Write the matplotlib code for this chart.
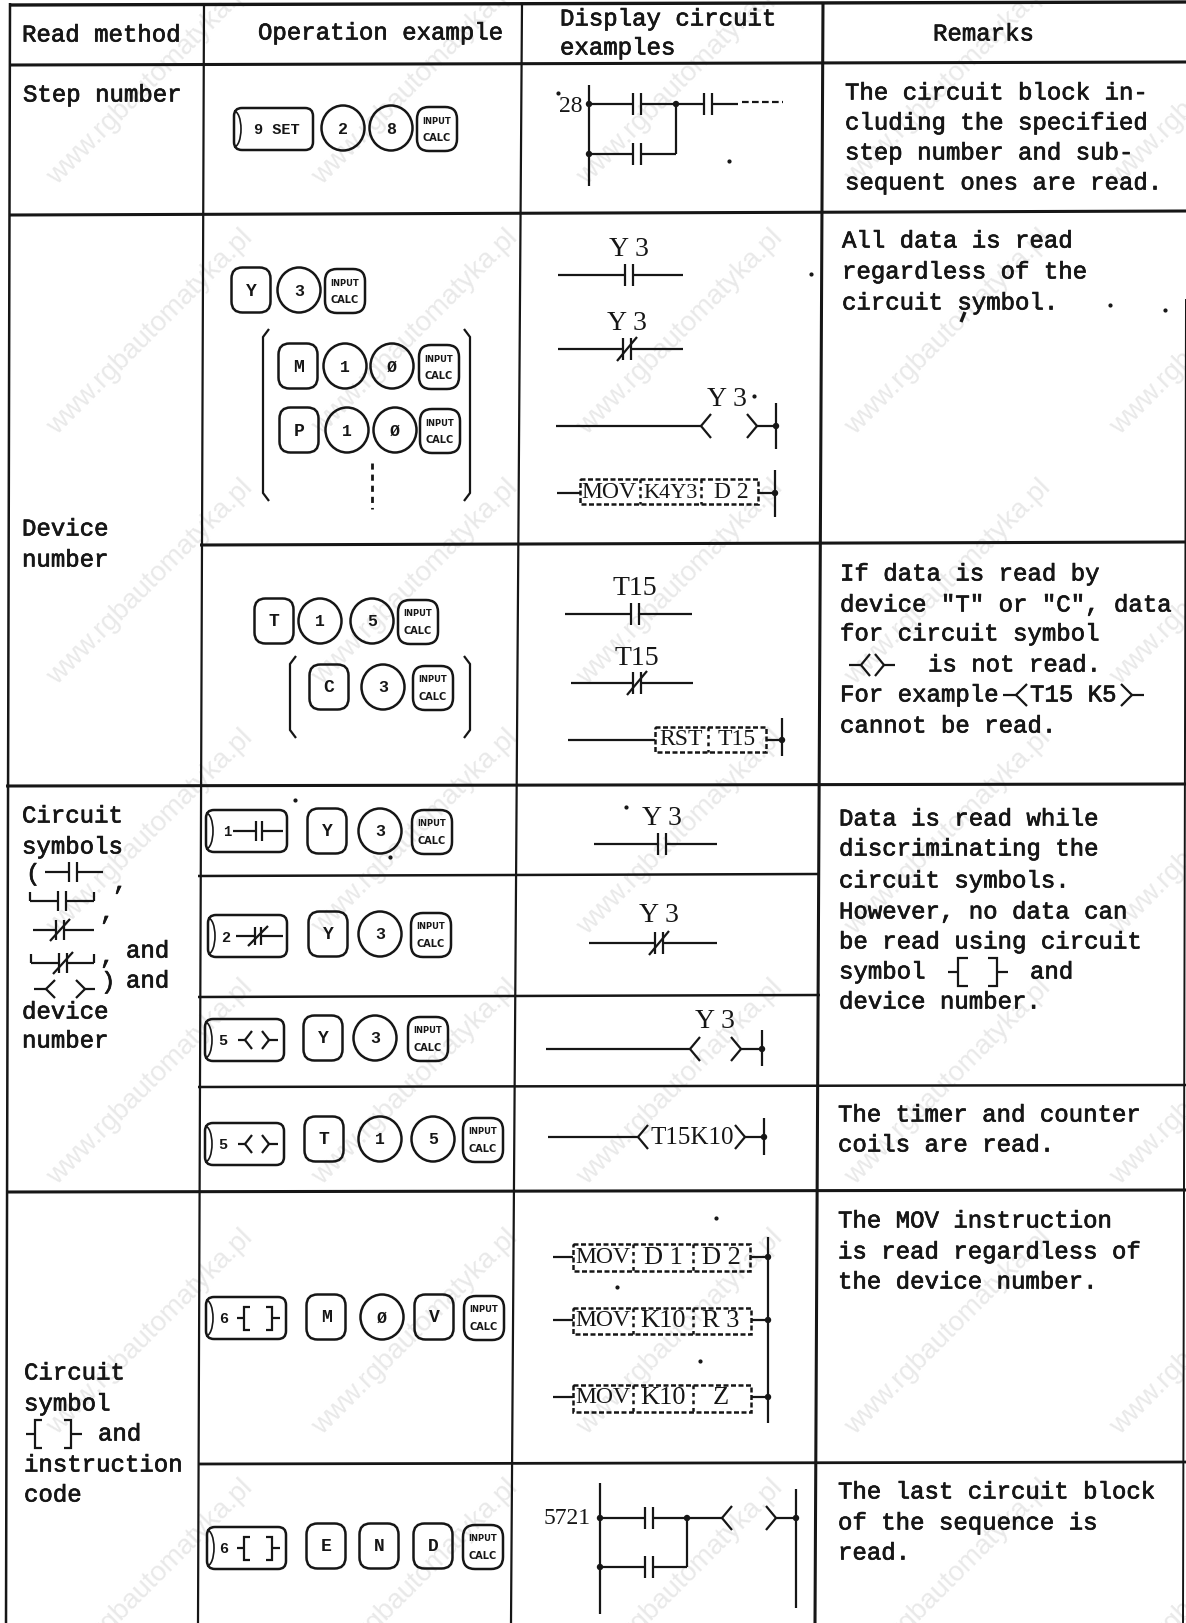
import matplotlib
matplotlib.use("Agg")
import matplotlib.patheffects as pe
import matplotlib.pyplot as plt
from matplotlib.patches import Arc, Circle, Ellipse, FancyBboxPatch, Rectangle

INK = "#161616"
MONO = "Liberation Mono"
SERIF = "Liberation Serif"

# Table text
headers = ["Read method", "Operation example", "Display circuit", "examples", "Remarks"]
method_step = ["Step number"]
method_device = ["Device", "number"]
method_symbols = ["Circuit", "symbols", "device", "number"]
method_code = ["Circuit", "symbol", "instruction", "code"]
remark_step = ["The circuit block in-", "cluding the specified", "step number and sub-", "sequent ones are read."]
remark_all = ["All data is read", "regardless of the", "circuit symbol."]
remark_tc = ['If data is read by', 'device "T" or "C", data', 'for circuit symbol', 'cannot be read.']
remark_disc = ["Data is read while", "discriminating the", "circuit symbols.", "However, no data can", "be read using circuit", "device number."]
remark_timer = ["The timer and counter", "coils are read."]
remark_mov = ["The MOV instruction", "is read regardless of", "the device number."]
remark_end = ["The last circuit block", "of the sequence is", "read."]

fig = plt.figure(figsize=(11.86, 16.24), dpi=100, facecolor="white")
ax = fig.add_axes([0, 0, 1, 1])
ax.set_xlim(0, 1186)
ax.set_ylim(1624, 0)
ax.axis("off")

# Watermark
for wy in [82, 332, 582, 832, 1082, 1332, 1582]:
    for wx in [150, 415, 680, 948, 1213]:
        ax.text(wx, wy, "www.rgbautomatyka.pl", rotation=45, fontsize=20, family="Liberation Sans",
                color="#e9e9e9", ha="center", va="center", rotation_mode="anchor", zorder=0)


def ln(xs, ys, lw=1.6, **kw):
    ax.plot(xs, ys, color=INK, lw=lw, solid_capstyle="butt", solid_joinstyle="miter", **kw)


def txt(x, y, s, size=17.3, family=MONO, ha="left", heavy=True, **kw):
    t = ax.text(x, y, s, fontsize=size, family=family, ha=ha, va="center", color=INK, **kw)
    if heavy:
        t.set_path_effects([pe.withStroke(linewidth=0.5, foreground=INK)])


def block(x, ys, lines):
    for y, s in zip(ys, lines):
        txt(x, y, s)


def dot(x, y, r=3.2):
    ax.add_patch(Circle((x, y), r, color=INK, lw=0, zorder=3))


def contact(x0, x1, xc, y, nc=False, h=11, gap=4, lw=1.6):
    ln([x0, xc - gap], [y, y], lw)
    ln([xc + gap, x1], [y, y], lw)
    ln([xc - gap, xc - gap], [y - h, y + h], lw)
    ln([xc + gap, xc + gap], [y - h, y + h], lw)
    if nc:
        ln([xc - 10, xc + 10], [y + h + 1, y - h - 1], lw)


def coil_ends(xl, xr, y, h=12, w=10, lw=1.6):
    ln([xl + w, xl, xl + w], [y - h, y, y + h], lw)
    ln([xr - w, xr, xr - w], [y - h, y, y + h], lw)


def dash_box(x0, x1, y0, y1, divs=()):
    ax.add_patch(Rectangle((x0, y0), x1 - x0, y1 - y0, fill=False, ec=INK, lw=1.8, ls=(0, (2, 1))))
    for d in divs:
        ax.plot([d, d], [y0, y1], color=INK, lw=1.8, ls=(0, (1.5, 1.5)))


def serif(x, y, s, size=20, **kw):
    txt(x, y, s, size=size, family=SERIF, ha="center", heavy=False, **kw)


def key_text(x, y, s, size=12):
    txt(x, y, s, size=size, ha="center", fontweight="bold", heavy=False)


def round_key(xc, yc, s, w=39, h=45):
    ax.add_patch(FancyBboxPatch((xc - w / 2, yc - h / 2), w, h, boxstyle="round,pad=0,rounding_size=11",
                                fill=False, ec=INK, lw=1.8))
    key_text(xc, yc, s, 13)


def circle_key(xc, yc, s, w=43, h=45):
    ax.add_patch(Ellipse((xc, yc), w, h, fill=False, ec=INK, lw=1.8))
    key_text(xc, yc, s, 12)


def calc_key(xc, yc, w=40, h=44):
    ax.add_patch(FancyBboxPatch((xc - w / 2, yc - h / 2), w, h, boxstyle="round,pad=0,rounding_size=12",
                                fill=False, ec=INK, lw=1.8))
    txt(xc, yc - 9, "INPUT", size=6, family="DejaVu Sans", ha="center", fontweight="bold", heavy=False)
    txt(xc, yc + 8, "CALC", size=7, family="DejaVu Sans", ha="center", fontweight="bold", heavy=False)


def wide_key(x0, x1, yc, h=42):
    ax.add_patch(FancyBboxPatch((x0, yc - h / 2), x1 - x0, h, boxstyle="round,pad=0,rounding_size=8",
                                fill=False, ec=INK, lw=1.8))
    ax.add_patch(Arc((x0, yc), 14, h - 6, theta1=-90, theta2=90, ec=INK, lw=1.2))


def key_row(xs, yc, labels):
    for x, s in zip(xs, labels):
        if s == "CALC":
            calc_key(x, yc + 1)
        elif s in "0123456789Ø":
            circle_key(x, yc, s)
        else:
            round_key(x, yc, s)


def parens(xl, xr, y0, y1):
    ln([xl + 6, xl, xl, xl + 6], [y0, y0 + 8, y1 - 8, y1], 1.6)
    ln([xr - 6, xr, xr, xr - 6], [y0, y0 + 8, y1 - 8, y1], 1.6)


# Table grid
for xs, ys, lw in [
    ([10, 1186], [6, 3], 2.4),
    ([10, 1186], [66, 63], 2.2),
    ([10, 1186], [216, 212], 2.2),
    ([200, 1186], [546, 543], 2.2),
    ([6, 1186], [787, 785], 2.2),
    ([198, 820], [877, 875], 1.8),
    ([198, 820], [998, 996], 1.8),
    ([198, 1186], [1088, 1086], 1.8),
    ([6, 1186], [1193, 1191], 2.2),
    ([198, 1186], [1465, 1463], 2.0),
    ([10, 6], [4, 1624], 1.8),
    ([204, 198], [4, 1624], 1.6),
    ([522, 511], [4, 1624], 1.6),
    ([823, 815], [3, 1624], 2.2),
    ([1186, 1183], [300, 1624], 1.4),
]:
    ln(xs, ys, lw)

# Headers and left column
txt(22, 36, headers[0])
txt(258, 34, headers[1])
block(560, [20, 49], headers[2:4])
txt(933, 35, headers[4])
block(23, [96], method_step)
block(22, [530, 561], method_device)
block(22, [817, 848, 1013, 1042], method_symbols)
block(24, [1374, 1405, 1466, 1496], method_code)
txt(126, 952, "and")
txt(126, 982, "and")
txt(98, 1435, "and")

# Circuit symbols named in the left column
txt(26, 875, "(")
contact(45, 103, 73, 873, h=10)
txt(113, 884, ",")
contact(30, 94, 62, 902, h=10)
ln([30, 30], [893, 902])
ln([94, 94], [893, 902])
txt(100, 914, ",")
contact(33, 94, 60, 931, nc=True, h=10)
contact(31, 94, 63, 964, nc=True, h=10)
ln([31, 31], [955, 964])
ln([94, 94], [955, 964])
txt(100, 958, ",")
ln([34, 46], [990, 990])
ln([85, 95], [990, 990])
coil_ends(46, 85, 990, h=9, w=9)
txt(101, 983, ")")
ln([26, 35], [1435, 1435])
ln([42, 35, 35, 42], [1421, 1421, 1449, 1449])
ln([64, 71, 71, 64], [1421, 1421, 1449, 1449])
ln([71, 82], [1435, 1435])

# Remarks
block(845, [94, 124, 154, 184], remark_step)
block(842, [242, 273, 304], remark_all)
block(840, [575, 606, 635, 727], remark_tc)
txt(928, 666, "is not read.")
ln([849, 861], [666, 666])
ln([884, 895], [666, 666])
coil_ends(861, 884, 666, h=11, w=9)
txt(840, 696, "For example")
ln([1003, 1016], [696, 696])
ln([1027, 1016, 1027], [685, 696, 707])
txt(1030, 696, "T15 K5")
ln([1121, 1132, 1121], [685, 696, 707])
ln([1132, 1144], [696, 696])
block(839, [820, 850, 882, 913, 943, 1003], remark_disc)
txt(839, 973, "symbol")
ln([948, 958], [973, 973])
ln([968, 958, 958, 968], [959, 959, 987, 987])
ln([988, 997, 997, 988], [959, 959, 987, 987])
ln([997, 1008], [973, 973])
txt(1030, 973, "and")
block(838, [1116, 1146], remark_timer)
block(838, [1222, 1253, 1283], remark_mov)
block(838, [1493, 1524, 1554], remark_end)

# Operation example keys
wide_key(234, 313, 130)
key_text(277, 130, "9 SET", 11)
key_row([343, 391, 437], 129, ["2", "8", "CALC"])
key_row([251, 299, 345], 291, ["Y", "3", "CALC"])
key_row([298, 345, 392, 439], 367, ["M", "1", "Ø", "CALC"])
key_row([299, 347, 395, 440], 431, ["P", "1", "Ø", "CALC"])
ax.plot([372, 372], [464, 510], color=INK, lw=2, ls=(0, (2.2, 1.8)))
parens(263, 470, 330, 502)
key_row([274, 320, 372, 418], 622, ["T", "1", "5", "CALC"])
key_row([329, 383, 433], 688, ["C", "3", "CALC"])
parens(290, 470, 657, 739)
wide_key(206, 287, 832)
key_text(227, 832, "1", 10)
contact(233, 283, 259, 832, h=10, gap=3)
key_row([327, 380, 432], 832, ["Y", "3", "CALC"])
wide_key(208, 287, 937)
key_text(226, 938, "2", 11)
contact(236, 283, 258, 937, nc=True, h=9, gap=3)
key_row([328, 380, 431], 935, ["Y", "3", "CALC"])
for wy, digit in [(1041, "5"), (1145, "5")]:
    wide_key(205, 284, wy)
    key_text(223, wy, digit, 11)
    ln([238, 245], [wy, wy])
    ln([269, 278], [wy, wy])
    coil_ends(245, 269, wy, h=9, w=7)
key_row([323, 375, 428], 1039, ["Y", "3", "CALC"])
key_row([324, 380, 433, 483], 1140, ["T", "1", "5", "CALC"])
for wy, x0 in [(1319, 206), (1549, 207)]:
    wide_key(x0, 286, wy)
    key_text(224, wy, "6", 11)
    ln([237, 244], [wy, wy])
    ln([250, 244, 244, 250], [wy - 11, wy - 11, wy + 12, wy + 12])
    ln([266, 272, 272, 266], [wy - 11, wy - 11, wy + 12, wy + 12])
    ln([272, 280], [wy, wy])
key_row([326, 382, 434, 484], 1318, ["M", "Ø", "V", "CALC"])
key_row([326, 379, 433, 483], 1547, ["E", "N", "D", "CALC"])

# Display circuits: step number
serif(571, 106, "28", size=17)
ln([589, 589], [86, 187])
contact(589, 676, 637, 105)
contact(676, 738, 708, 105)
ax.plot([742, 783], [103, 103], color=INK, lw=1.6, ls=(0, (3, 1.5)))
contact(589, 676, 637, 155)
ln([676, 676], [105, 155])
dot(589, 105)
dot(676, 105)
dot(589, 155)

# Device number
serif(629, 249, "Y 3")
contact(558, 683, 629, 276)
serif(627, 323, "Y 3")
contact(558, 683, 627, 350, nc=True)
serif(727, 400, "Y 3")
ln([556, 701], [427, 427])
coil_ends(701, 757, 427)
ln([757, 776], [427, 427])
ln([776, 776], [404, 450])
dot(776, 427)
ln([557, 580], [494, 494])
dash_box(580, 758, 480, 505, divs=(640, 701))
serif(609, 493, "MOV", size=17)
serif(671, 493, "K4Y3", size=16)
serif(731, 493, "D 2", size=17)
ln([758, 775], [494, 494])
ln([775, 775], [471, 518])
dot(775, 494)

serif(635, 589, "T15")
contact(565, 692, 635, 615)
serif(637, 659, "T15")
contact(571, 693, 637, 684, nc=True)
ln([568, 655], [741, 741])
dash_box(655, 766, 728, 753, divs=(708,))
serif(681, 740, "RST", size=17)
serif(737, 740, "T15", size=17)
ln([766, 782], [741, 741])
ln([782, 782], [719, 757])
dot(782, 741)

# Circuit symbols
serif(662, 819, "Y 3")
contact(594, 717, 662, 845)
serif(659, 916, "Y 3")
contact(589, 717, 659, 944, nc=True)
serif(715, 1022, "Y 3")
ln([546, 690], [1050, 1050])
coil_ends(690, 741, 1050)
ln([741, 762], [1050, 1050])
ln([762, 762], [1031, 1067])
dot(762, 1050)
ln([548, 638], [1138, 1138])
coil_ends(638, 745, 1138)
serif(692, 1138, "T15K10", size=18)
ln([745, 764], [1138, 1138])
ln([764, 764], [1119, 1156])
dot(764, 1138)

# Instruction code
for wy, box_x1, y0, y1, parts in [
    (1258, 750, 1245, 1272, ("D 1", "D 2")),
    (1321, 751, 1309, 1335, ("K10", "R 3")),
    (1398, 751, 1386, 1413, ("K10", "Z")),
]:
    ln([553, 573], [wy, wy])
    dash_box(573, box_x1, y0, y1, divs=(633, 693))
    serif(603, wy, "MOV", size=17)
    serif(663, wy, parts[0], size=19)
    serif(721, wy, parts[1], size=19)
    ln([box_x1, 768], [wy, wy])
    dot(768, wy)
ln([768, 768], [1238, 1424])

serif(567, 1519, "5721", size=17)
ln([600, 600], [1484, 1615])
contact(600, 687, 649, 1519)
ln([687, 722], [1519, 1519])
coil_ends(722, 776, 1519)
ln([776, 796], [1519, 1519])
ln([796, 796], [1490, 1609])
contact(600, 687, 649, 1568)
ln([687, 687], [1519, 1568])
dot(600, 1519)
dot(687, 1519)
dot(600, 1568)
dot(796, 1519)

# Scan specks
speck_x = [729, 811, 1110, 1165, 754, 295, 390, 626, 617, 700, 716, 558]
speck_y = [162, 275, 306, 311, 397, 801, 858, 808, 1288, 1362, 1219, 94]
ax.plot(speck_x, speck_y, ls="none", marker="o", ms=2, color=INK)
ln([965, 961], [313, 323], 2.4)

fig.savefig("out.png", dpi=100)
